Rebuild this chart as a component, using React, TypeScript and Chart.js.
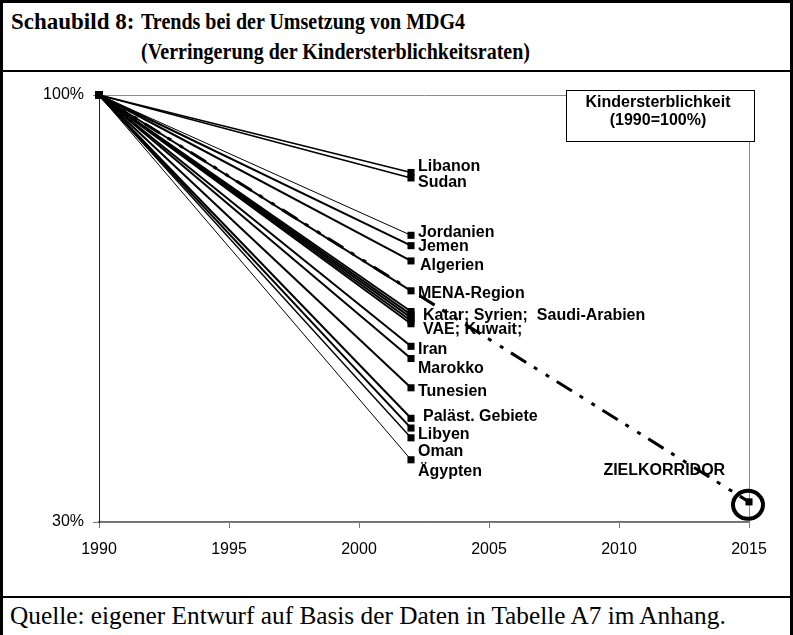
import React, { useEffect, useRef } from "react";
import { Chart, registerables } from "chart.js";

Chart.register(...registerables);

// ---- data ----
const startYear = 1990;
const endYear = 2002;
const baseValue = 100;
const countries = [
  "Libanon", "Sudan", "Jordanien", "Jemen", "Algerien", "MENA-Region",
  "Katar", "Syrien", "Saudi-Arabien", "VAE", "Kuwait", "Iran", "Marokko",
  "Tunesien", "Paläst. Gebiete", "Libyen", "Oman", "Ägypten",
];
const values2002 = [
  87.3, 86.4, 77.0, 75.3, 72.8, 67.9,
  64.5, 64.0, 63.5, 63.0, 62.5, 58.8, 56.8,
  52.0, 47.0, 45.4, 43.8, 40.2,
];
const targetYears = [1990, 2015];
const targetValues = [100, 33.3];
const labelTexts = [
  "Libanon", "Sudan", "Jordanien", "Jemen", "Algerien", "MENA-Region",
  "Katar; Syrien;  Saudi-Arabien", "VAE; Kuwait;", "Iran", "Marokko",
  "Tunesien", "Paläst. Gebiete", "Libyen", "Oman", "Ägypten",
];
const labelValues = [88.2, 85.7, 77.5, 75.2, 72.1, 67.5, 63.9, 61.5, 58.2, 55.2, 51.3, 47.2, 44.3, 41.5, 38.2];
const targetLabel = "ZIELKORRIDOR";
const targetLabelYear = 2009.4;
const targetLabelValue = 38.5;
const yTicks = [30, 100];
const xMin = 1990;
const xMax = 2015;
const xStep = 5;
const legendLines = ["Kindersterblichkeit", "(1990=100%)"];

// ---- styles ----
const thinLines: Record<string, number> = { Jordanien: 1, "Ägypten": 1, Oman: 1.4, Libanon: 1.5, Sudan: 1.5 };
const labelIndent: Record<string, number> = { "Katar; Syrien;  Saudi-Arabien": 12, "VAE; Kuwait;": 12, "Paläst. Gebiete": 12, Algerien: 9 };
const SANS = '"Liberation Sans", Arial, Helvetica, sans-serif';
const SERIF = '"Liberation Serif", "Times New Roman", Times, serif';

const overlayPlugin = {
  id: "overlay",
  afterDatasetsDraw(chart: any) {
    const { ctx, scales, chartArea } = chart;
    const xs = scales.x;
    const ys = scales.y;
    ctx.save();
    ctx.fillStyle = "#000";
    ctx.font = `bold 16px ${SANS}`;
    ctx.textAlign = "left";
    ctx.textBaseline = "middle";
    const lx = xs.getPixelForValue(endYear);
    labelTexts.forEach((t, i) => {
      const dx = labelIndent[t] ?? 7;
      ctx.fillText(t, lx + dx, ys.getPixelForValue(labelValues[i]));
    });
    ctx.fillText(targetLabel, xs.getPixelForValue(targetLabelYear), ys.getPixelForValue(targetLabelValue));
    // target circle
    const tx = xs.getPixelForValue(targetYears[1]);
    const ty = ys.getPixelForValue(targetValues[1]);
    ctx.beginPath();
    ctx.lineWidth = 4;
    ctx.strokeStyle = "#000";
    ctx.ellipse(tx - 1, ty + 3, 15, 14, 0, 0, Math.PI * 2);
    ctx.stroke();
    // legend box
    const bx = chartArea.right - 183;
    const by = chartArea.top - 5;
    const bw = 188;
    const bh = 51;
    ctx.fillStyle = "#fff";
    ctx.fillRect(bx, by, bw, bh);
    ctx.lineWidth = 1;
    ctx.strokeStyle = "#000";
    ctx.strokeRect(bx + 0.5, by + 0.5, bw, bh);
    ctx.fillStyle = "#000";
    ctx.textAlign = "center";
    ctx.fillText(legendLines[0], bx + bw / 2 - 2, by + 13);
    ctx.fillText(legendLines[1], bx + bw / 2 - 2, by + 31);
    ctx.restore();
  },
};

function ChartView() {
  const ref = useRef<HTMLCanvasElement | null>(null);
  useEffect(() => {
    if (!ref.current) return;
    const datasets: any[] = countries.map((c, i) => ({
      label: c,
      data: [
        { x: startYear, y: baseValue },
        { x: endYear, y: values2002[i] },
      ],
      borderColor: "#000",
      backgroundColor: "#000",
      borderWidth: thinLines[c] ?? 2,
      pointStyle: "rect",
      pointRadius: 5,
      pointBorderWidth: 0,
      pointBackgroundColor: "#000",
      clip: false,
    }));
    datasets.push({
      label: "Ziel",
      data: targetYears.map((x, i) => ({ x, y: targetValues[i] })),
      borderColor: "#000",
      backgroundColor: "#000",
      borderWidth: 3,
      borderDash: [18, 9, 4, 10, 4, 9],
      pointStyle: "rect",
      pointRadius: [0, 5],
      pointBorderWidth: 0,
      pointBackgroundColor: "#000",
      clip: false,
    });
    const chart = new Chart(ref.current, {
      type: "line",
      data: { datasets },
      options: {
        animation: false,
        responsive: false,
        maintainAspectRatio: false,
        layout: { padding: { top: 22, right: 41, bottom: 33, left: 0 } },
        plugins: { legend: { display: false }, tooltip: { enabled: false }, title: { display: false } },
        scales: {
          x: {
            type: "linear",
            min: xMin,
            max: xMax,
            afterBuildTicks: (s: any) => {
              const t = [];
              for (let v = xMin; v <= xMax; v += xStep) t.push({ value: v });
              s.ticks = t;
            },
            afterFit: (s: any) => { s.height = 40; },
            grid: {
              color: (c: any) => (c.tick && c.tick.value === xMax ? "#8a8a8a" : "rgba(0,0,0,0)"),
              tickColor: "#777",
              tickLength: 6,
              lineWidth: 1,
            },
            border: { color: "#6e6e6e", width: 1.5 },
            ticks: {
              color: "#000",
              font: { family: SANS, size: 16 },
              padding: 12,
              maxRotation: 0,
              callback: (v: any) => String(v),
            },
          },
          y: {
            type: "linear",
            min: yTicks[0],
            max: yTicks[yTicks.length - 1],
            afterBuildTicks: (s: any) => { s.ticks = yTicks.map((v) => ({ value: v })); },
            afterFit: (s: any) => { s.width = 96; },
            grid: {
              color: "#8a8a8a",
              tickColor: "#777",
              tickLength: 6,
              lineWidth: 1,
            },
            border: { color: "#222", width: 1 },
            ticks: {
              color: "#000",
              font: { family: SANS, size: 16 },
              padding: 9,
              callback: (v: any) => `${v}%`,
            },
          },
        },
      },
      plugins: [overlayPlugin],
    });
    return () => chart.destroy();
  }, []);
  return <canvas ref={ref} width={787} height={522} style={{ position: "absolute", left: 3, top: 73, width: 787, height: 522 }} />;
}

export default function App() {
  const line = (style: React.CSSProperties) => <div style={{ position: "absolute", background: "#000", ...style }} />;
  const condensed: React.CSSProperties = { transform: "scaleX(0.87)", transformOrigin: "left center", whiteSpace: "nowrap" };
  return (
    <div style={{ position: "fixed", left: 0, top: 0, width: 793, height: 635, background: "#fff", overflow: "hidden" }}>
      {line({ left: 0, top: 0, width: 793, height: 3 })}
      {line({ left: 0, top: 0, width: 3, height: 635 })}
      {line({ left: 790, top: 0, width: 3, height: 635 })}
      {line({ left: 0, top: 70, width: 793, height: 2 })}
      {line({ left: 0, top: 596, width: 793, height: 2 })}
      <div style={{ position: "absolute", left: 11, top: 7, fontFamily: SERIF, fontWeight: "bold", fontSize: 23, lineHeight: "30px", display: "flex", color: "#000" }}>
        <div style={{ width: 130, whiteSpace: "nowrap" }}>Schaubild 8:</div>
        <div>
          <div style={condensed}>Trends bei der Umsetzung von MDG4</div>
          <div style={condensed}>(Verringerung der Kindersterblichkeitsraten)</div>
        </div>
      </div>
      <ChartView />
      <div style={{ position: "absolute", left: 10, top: 601, fontFamily: SERIF, fontSize: 25.3, lineHeight: "28px", color: "#000", whiteSpace: "nowrap" }}>
        Quelle: eigener Entwurf auf Basis der Daten in Tabelle A7 im Anhang.
      </div>
    </div>
  );
}
